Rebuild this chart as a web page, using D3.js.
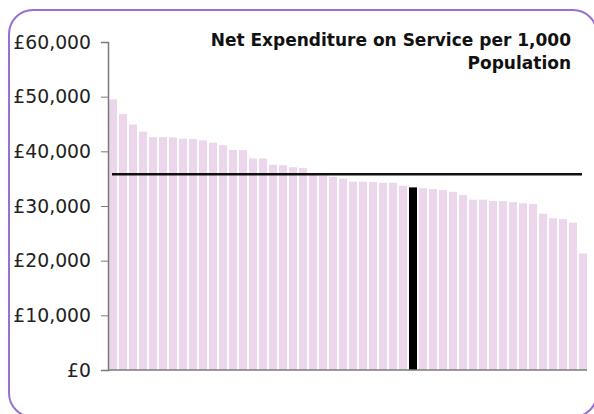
<!DOCTYPE html>
<html lang="en">
<head>
  <meta charset="UTF-8">
  <title>Net Expenditure on Service per 1,000 Population</title>
  <script src="https://d3js.org/d3.v7.min.js"></script>
  <style>
    body {
      margin: 0;
      background: #ffffff;
      font-family: 'DejaVu Sans', Verdana, sans-serif;
    }
    svg { display: block; }
  </style>
</head>
<body>
<div id="chart"></div>

<script>
  // values per authority, sorted high to low
  const authorities = d3.range(48).map(i => "LA" + (i + 1));
  const expenditure = [
    49500, 46800, 44900, 43600, 42600, 42600, 42550, 42300, 42250, 42000,
    41600, 41100, 40250, 40200, 38700, 38700, 37550, 37450, 37100, 36950,
    35700, 35600, 35300, 35000, 34450, 34450, 34400, 34250, 34250, 33700,
    33400, 33250, 33100, 32900, 32600, 32000, 31150, 31150, 30900, 30900,
    30700, 30500, 30350, 28600, 27750, 27600, 26950, 21300
  ];
  const highlighted = "LA31";
  const average = 35800;
  const yTicks = [0, 10000, 20000, 30000, 40000, 50000, 60000];
  const titleLines = ["Net Expenditure on Service per 1,000", "Population"];

  const width = 594, height = 414;

  const svg = d3.select("#chart")
    .append("svg")
    .attr("width", width)
    .attr("height", height);

  // rounded purple frame, runs off the right and bottom edges
  svg.append("rect")
    .attr("x", 9)
    .attr("y", 10)
    .attr("width", 588)
    .attr("height", 407)
    .attr("rx", 24)
    .attr("fill", "none")
    .attr("stroke", "#9b6fcf")
    .attr("stroke-width", 2);

  const x = d3.scaleBand()
    .domain(authorities)
    .range([108, 588])
    .paddingInner(0.2)
    .paddingOuter(0.1);

  const y = d3.scaleLinear()
    .domain([0, 60000])
    .range([370, 42]);

  const data = authorities.map((a, i) => ({ name: a, value: expenditure[i] }));

  svg.selectAll(".bar")
    .data(data)
    .join("rect")
    .attr("class", "bar")
    .attr("x", d => x(d.name))
    .attr("y", d => y(d.value))
    .attr("width", x.bandwidth())
    .attr("height", d => y(0) - y(d.value))
    .attr("fill", d => d.name === highlighted ? "#000000" : "#ebd6eb");

  // average line
  svg.append("line")
    .attr("x1", 112)
    .attr("x2", 582)
    .attr("y1", y(average))
    .attr("y2", y(average))
    .attr("stroke", "#111")
    .attr("stroke-width", 2.5);

  // y axis
  const yAxis = svg.append("g")
    .attr("transform", "translate(108,0)")
    .call(d3.axisLeft(y)
      .tickValues(yTicks)
      .tickSize(7)
      .tickPadding(10)
      .tickFormat(d => "£" + d3.format(",")(d)));

  yAxis.select(".domain").attr("stroke", "#7a7a7a").attr("stroke-width", 1.5);
  yAxis.selectAll(".tick line").attr("stroke", "#7a7a7a");
  yAxis.selectAll(".tick text")
    .attr("fill", "#222")
    .style("font-family", "'DejaVu Sans', Verdana, sans-serif")
    .style("font-size", "18.8px");

  // x axis baseline
  svg.append("line")
    .attr("x1", 108)
    .attr("x2", 587)
    .attr("y1", y(0))
    .attr("y2", y(0))
    .attr("stroke", "#7a7a7a")
    .attr("stroke-width", 1.5);

  // title, right aligned
  svg.append("text")
    .attr("text-anchor", "end")
    .attr("font-weight", "bold")
    .attr("font-size", "17px")
    .attr("fill", "#111")
    .selectAll("tspan")
    .data(titleLines)
    .join("tspan")
    .attr("x", 571)
    .attr("y", (d, i) => 46 + i * 23)
    .text(d => d);
</script>
</body>
</html>
